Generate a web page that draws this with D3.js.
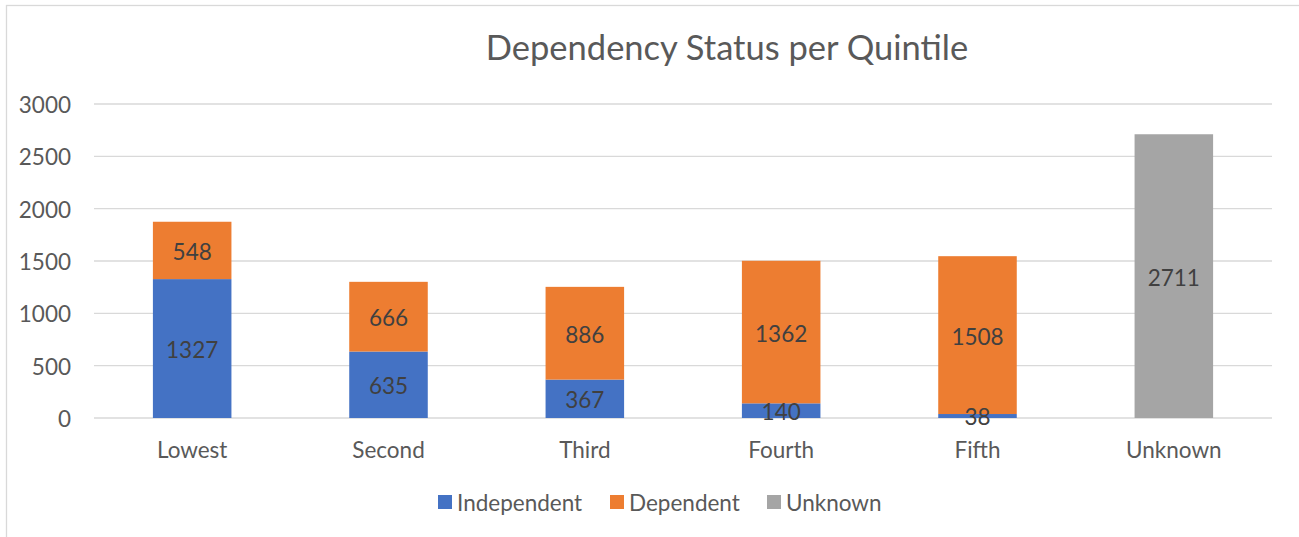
<!DOCTYPE html>
<html>
<head>
<meta charset="utf-8">
<script src="https://cdn.jsdelivr.net/npm/d3@7"></script>
<style>
  body { margin: 0; background: #fff; }
  text { font-family: Lato, "Open Sans", sans-serif; fill: #595959; }
</style>
</head>
<body>
<svg id="chart"></svg>
<script>
// chart data
var categories = ["Lowest", "Second", "Third", "Fourth", "Fifth", "Unknown"];
var independent = [1327, 635, 367, 140, 38, 0];
var dependent = [548, 666, 886, 1362, 1508, 0];
var unknown = [0, 0, 0, 0, 0, 2711];
var seriesNames = ["Independent", "Dependent", "Unknown"];
var seriesColors = ["#4472C4", "#ED7D31", "#A5A5A5"];
var yTicks = [0, 500, 1000, 1500, 2000, 2500, 3000];

var w = 1299, h = 537;
var plotLeft = 94, plotRight = 1272, plotTop = 104, plotBottom = 418;
var fontSize = '22.5px';

var svg = d3.select('#chart').attr('width', w).attr('height', h);

// outer frame
svg.append('rect')
    .attr('x', 6.5).attr('y', 5.5)
    .attr('width', w + 10).attr('height', h + 10)
    .attr('fill', 'none')
    .attr('stroke', '#d9d9d9')
    .attr('stroke-width', 1.3);

var x = d3.scaleBand().domain(categories).range([plotLeft, plotRight])
    .paddingInner(0.6).paddingOuter(0.3);
var y = d3.scaleLinear().domain([0, 3000]).range([plotBottom, plotTop]);

// gridlines
svg.append('g').selectAll('line').data(yTicks).enter()
    .append('line')
    .attr('x1', plotLeft).attr('x2', plotRight)
    .attr('y1', function(d) { return y(d); })
    .attr('y2', function(d) { return y(d); })
    .attr('stroke', '#d9d9d9')
    .attr('stroke-width', 1.3);

// y axis labels
var yAxis = d3.axisLeft(y).tickValues(yTicks).tickFormat(d3.format('d')).tickSize(0).tickPadding(0);
var yg = svg.append('g').attr('transform', 'translate(71,0)').call(yAxis);
yg.select('.domain').remove();
yg.selectAll('text').style('font-size', fontSize).attr('fill', '#595959')
    .style('font-family', 'Lato').attr('dy', '0.38em');

// x axis labels
var xAxis = d3.axisBottom(x).tickSize(0).tickPadding(0);
var xg = svg.append('g').attr('transform', 'translate(0,' + plotBottom + ')').call(xAxis);
xg.select('.domain').remove();
xg.selectAll('text').style('font-size', fontSize).attr('fill', '#595959')
    .style('font-family', 'Lato').attr('y', 40).attr('dy', 0);

// stacked bars
var rows = categories.map(function(c, i) {
  return { cat: c, Independent: independent[i], Dependent: dependent[i], Unknown: unknown[i] };
});
var stack = d3.stack().keys(seriesNames)(rows);

var groups = svg.append('g').selectAll('g').data(stack).enter()
    .append('g')
    .attr('fill', function(d, i) { return seriesColors[i]; });

groups.selectAll('rect')
    .data(function(d) { return d.filter(function(s) { return s[1] - s[0] > 0; }); })
    .enter()
    .append('rect')
    .attr('x', function(d) { return x(d.data.cat); })
    .attr('y', function(d) { return y(d[1]); })
    .attr('width', x.bandwidth())
    .attr('height', function(d) { return y(d[0]) - y(d[1]); });

// data labels
stack.forEach(function(layer) {
  layer.forEach(function(s) {
    var v = s[1] - s[0];
    if (v <= 0) return;
    svg.append('text')
        .attr('x', x(s.data.cat) + x.bandwidth() / 2)
        .attr('y', (y(s[0]) + y(s[1])) / 2)
        .attr('dy', '0.42em')
        .attr('text-anchor', 'middle')
        .style('font-size', fontSize)
        .style('fill', '#404040')
        .text(v);
  });
});

// title
svg.append('text')
    .attr('x', 727).attr('y', 60)
    .attr('text-anchor', 'middle')
    .style('font-size', '34.5px')
    .text('Dependency Status per Quintile');

// legend
var legendX = [438, 610, 767];
var legend = svg.append('g').selectAll('g').data(seriesNames).enter()
    .append('g')
    .attr('transform', function(d, i) { return 'translate(' + legendX[i] + ',495)'; });
legend.append('rect')
    .attr('width', 14).attr('height', 14)
    .attr('fill', function(d, i) { return seriesColors[i]; });
legend.append('text')
    .attr('x', 19).attr('y', 7).attr('dy', '0.38em')
    .style('font-size', fontSize)
    .text(function(d) { return d; });
</script>
</body>
</html>
